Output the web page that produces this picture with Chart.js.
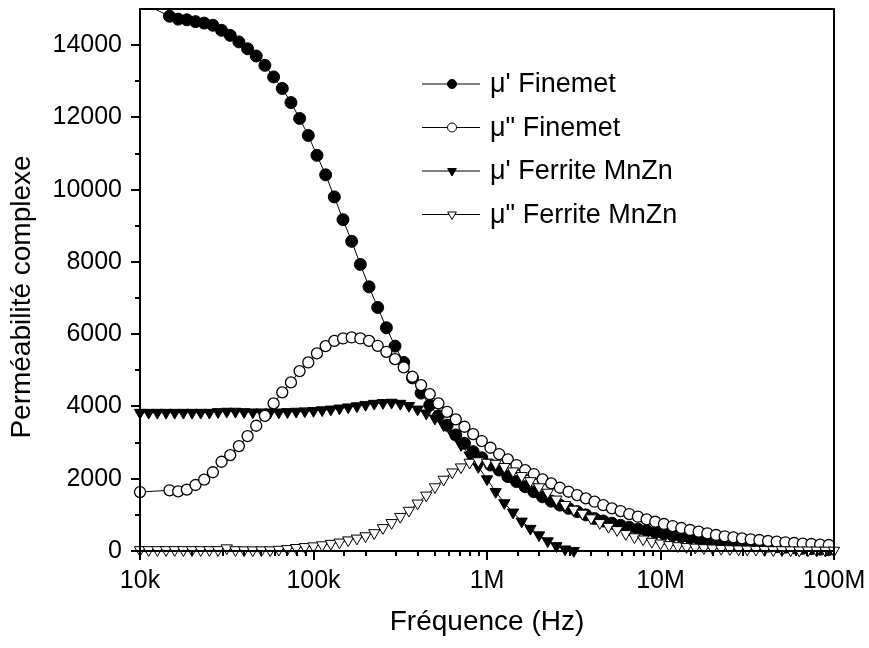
<!DOCTYPE html>
<html>
<head>
<meta charset="utf-8">
<script src="https://cdn.jsdelivr.net/npm/chart.js@4/dist/chart.umd.min.js"></script>
<style>
html,body{margin:0;padding:0;background:#fff;}
#wrap{width:869px;height:648px;}
</style>
</head>
<body>
<div id="wrap"><canvas id="c" width="869" height="648"></canvas></div>
<script>
// ---------- DATA ----------
const freqFinemet = [
  10000,
  14791,16596,18621,20893,23442,26303,29512,33113,37154,41687,
  46774,52481,58884,66069,74131,83176,93325,104713,117490,131826,
  147911,165959,186209,208930,234423,263027,295121,331131,371535,416869,
  467735,524807,588844,660693,741310,831764,933254,1047129,1174898,1318257,
  1479108,1659587,1862087,2089296,2344229,2630268,2951209,3311311,3715352,4168694,
  4677351,5248075,5888437,6606934,7413102,8317638,9332543,10471285,11748976,13182567,
  14791084,16595869,18620871,20892961,23442288,26302680,29512092,33113112,37153523,41686938,
  46773514,52480746,58884366,66069345,74131024,83176377,93325430
];
const muPrimeFinemet = [
  15200,
  14800,14720,14700,14650,14610,14550,14410,14270,14090,13900,
  13700,13440,13120,12800,12410,11970,11500,10950,10410,9800,
  9170,8570,7930,7310,6740,6180,5670,5220,4790,4370,
  4040,3740,3480,3210,2980,2750,2580,2380,2240,2060,
  1920,1780,1640,1500,1380,1270,1180,1090,1000,900,
  830,770,710,655,605,560,515,475,435,400,
  365,330,300,270,245,220,195,175,155,135,
  120,105,90,75,62,50,40
];
const muSecondFinemet = [
  1632,
  1680,1650,1700,1826,1975,2180,2470,2655,2904,3181,
  3466,3742,4085,4390,4666,4979,5218,5468,5670,5817,
  5882,5910,5882,5817,5679,5513,5310,5081,4822,4592,
  4343,4085,3853,3643,3438,3236,3043,2857,2683,2536,
  2379,2240,2130,1983,1873,1751,1640,1549,1458,1364,
  1272,1181,1106,1023,949,877,810,747,691,636,
  581,534,490,443,407,379,351,324,304,277,
  257,241,221,202,194,174,166
];
const freqFerrite = [
  10000,11220,12589,14125,15849,17783,19953,22387,25119,28184,
  31623,35481,39811,44668,50119,56234,63096,70795,79433,89125,
  100000,112202,125893,141254,158489,177828,199526,223872,251189,281838,
  316228,354813,398107,446684,501187,562341,630957,707946,794328,891251,
  1000000,1122018,1258925,1412538,1584893,1778279,1995262,2238721,2511886,2818383,
  3162278,3548134,3981072,4466836,5011872,5623413,6309573,7079458,7943282,8912509,
  10000000,11220185,12589254,14125375,15848932,17782794,19952623,22387211,25118864,28183829,
  31622777,35481339,39810717,44668359,50118723,56234133,63095734,70794578,79432823,89125094,
  100000000
];
const muPrimeFerrite = [
  3830,3830,3830,3830,3830,3830,3830,3830,3830,3850,
  3860,3860,3850,3840,3840,3840,3840,3850,3860,3870,
  3880,3900,3920,3950,3980,4010,4050,4080,4100,4110,
  4080,4020,3920,3810,3670,3490,3250,2940,2650,2330,
  1990,1640,1330,1070,820,620,440,275,140,50,
  5
];
const muSecondFerrite = [
  30,30,30,30,30,30,30,30,30,30,
  80,30,25,25,25,25,40,60,90,115,
  135,165,205,240,300,350,415,500,640,780,
  950,1120,1320,1540,1770,1980,2180,2320,2450,2490,
  2450,2420,2330,2210,2080,1940,1770,1620,1430,1280,
  1150,1040,910,780,675,585,475,385,325,260,
  213,170,140,115,100,85,75,65,55,50,
  45,40,35,30,28,25,22,20,18,16,
  15
];
const seriesLabels = ["\u03bc' Finemet", '\u03bc" Finemet', "\u03bc' Ferrite MnZn", '\u03bc" Ferrite MnZn'];
const xTickValues = [10000, 100000, 1000000, 10000000, 100000000];
const xTickLabels = ['10k', '100k', '1M', '10M', '100M'];
const yTickValues = [0, 2000, 4000, 6000, 8000, 10000, 12000, 14000];
const yTickLabels = ['0', '2000', '4000', '6000', '8000', '10000', '12000', '14000'];
const yMinorStep = 1000;
const xTitle = 'Fr\u00e9quence (Hz)';
const yTitle = 'Perm\u00e9abilit\u00e9 complexe';

// ---------- CHART ----------
const FONT = "'Liberation Sans', Arial, sans-serif";
const toPts = (fs, vs) => vs.map((v, i) => ({x: fs[i], y: v}));

function isDecade(v) {
  const l = Math.log10(v);
  return Math.abs(l - Math.round(l)) < 1e-6;
}

const datasetStyles = [
  {pointStyle: 'circle', rotation: 0, radius: 6, bg: '#000', bw: 1, order: 4, legendRadius: 4.5},
  {pointStyle: 'circle', rotation: 0, radius: 5.5, bg: '#fff', bw: 1.3, order: 2, legendRadius: 4.5},
  {pointStyle: 'triangle', rotation: 180, radius: 6.5, bg: '#000', bw: 1, order: 3, legendRadius: 5},
  {pointStyle: 'triangle', rotation: 180, radius: 6.5, bg: '#fff', bw: 1, order: 1, legendRadius: 5}
];
const seriesData = [
  toPts(freqFinemet, muPrimeFinemet),
  toPts(freqFinemet, muSecondFinemet),
  toPts(freqFerrite, muPrimeFerrite),
  toPts(freqFerrite, muSecondFerrite)
];

const datasets = seriesData.map((d, i) => {
  const s = datasetStyles[i];
  return {
    label: seriesLabels[i],
    data: d,
    borderColor: '#000',
    borderWidth: 1,
    backgroundColor: s.bg,
    pointStyle: s.pointStyle,
    pointRotation: s.rotation,
    pointRadius: s.radius,
    pointBackgroundColor: s.bg,
    pointBorderColor: '#000',
    pointBorderWidth: s.bw,
    pointHoverRadius: s.radius,
    tension: 0,
    order: s.order,
    clip: {left: 8, right: 8, top: 0, bottom: 8}
  };
});

const framePlugin = {
  id: 'frame',
  afterDraw(chart) {
    const {ctx, chartArea: a, scales: {x, y}} = chart;
    ctx.save();
    ctx.strokeStyle = '#000';
    ctx.lineCap = 'butt';
    const seg = (x1, y1, x2, y2) => { ctx.beginPath(); ctx.moveTo(x1, y1); ctx.lineTo(x2, y2); ctx.stroke(); };
    // frame
    ctx.lineWidth = 2;
    ctx.strokeRect(a.left, a.top, a.right - a.left, a.bottom - a.top);
    // y ticks major
    y.ticks.forEach(t => {
      const py = Math.round(y.getPixelForValue(t.value));
      seg(a.left - 9, py, a.left, py);
    });
    // y ticks minor
    for (let v = y.min + yMinorStep; v < y.max; v += yMinorStep) {
      if (yTickValues.includes(v)) continue;
      const pm = Math.round(y.getPixelForValue(v));
      seg(a.left - 5, pm, a.left, pm);
    }
    // x ticks
    x.ticks.forEach(t => {
      if (t.value < x.min || t.value > x.max) return;
      const px = Math.round(x.getPixelForValue(t.value));
      const major = isDecade(t.value);
      seg(px, a.bottom, px, a.bottom + (major ? 9 : 5));
    });
    // y title
    ctx.fillStyle = '#000';
    ctx.font = '28px ' + FONT;
    ctx.textAlign = 'center';
    ctx.textBaseline = 'middle';
    ctx.translate(22, 297);
    ctx.rotate(-Math.PI / 2);
    ctx.fillText(yTitle, 0, 0);
    ctx.setTransform(1, 0, 0, 1, 0, 0);
    // legend
    const legX1 = 422, legX2 = 480, legMx = 452, legTx = 490;
    const legY0 = 84, legDy = 43.5;
    chart.data.datasets.forEach((ds, i) => {
      const s = datasetStyles[i];
      const ly = legY0 + i * legDy;
      ctx.lineWidth = 1;
      ctx.strokeStyle = '#000';
      seg(legX1, ly, legX2, ly);
      ctx.fillStyle = s.bg;
      ctx.strokeStyle = '#000';
      Chart.helpers.drawPoint(ctx, {pointStyle: s.pointStyle, rotation: s.rotation, radius: s.legendRadius, borderWidth: 1}, legMx, ly);
      ctx.fillStyle = '#000';
      ctx.font = '27px ' + FONT;
      ctx.textAlign = 'left';
      ctx.textBaseline = 'middle';
      ctx.fillText(ds.label, legTx, ly + 1);
    });
    ctx.restore();
  }
};

new Chart(document.getElementById('c'), {
  type: 'line',
  data: {datasets},
  options: {
    responsive: false,
    devicePixelRatio: 1,
    animation: false,
    events: [],
    layout: {padding: {top: 9, right: 35, left: 0, bottom: 0}},
    plugins: {legend: {display: false}, tooltip: {enabled: false}},
    scales: {
      x: {
        type: 'logarithmic',
        min: 10000,
        max: 100000000,
        grid: {display: false, drawTicks: false},
        border: {display: false},
        ticks: {
          autoSkip: false,
          maxRotation: 0,
          minRotation: 0,
          padding: 15,
          color: '#000',
          font: {family: FONT, size: 25},
          callback: (v) => {
            const idx = xTickValues.findIndex(tv => Math.abs(Math.log10(tv) - Math.log10(v)) < 1e-6);
            return idx >= 0 ? xTickLabels[idx] : '';
          }
        },
        title: {display: true, text: xTitle, color: '#000', font: {family: FONT, size: 28}, padding: {top: 0, bottom: 9}},
        afterFit: (s) => { s.height = 97; s.paddingLeft = 0; s.paddingRight = 0; s.paddingTop = 0; s.paddingBottom = 0; }
      },
      y: {
        min: 0,
        max: 15000,
        grid: {display: false, drawTicks: false},
        border: {display: false},
        afterBuildTicks: (s) => { s.ticks = yTickValues.map(v => ({value: v})); },
        ticks: {
          autoSkip: false,
          padding: 18,
          color: '#000',
          font: {family: FONT, size: 25},
          callback: (v) => {
            const idx = yTickValues.indexOf(v);
            return idx >= 0 ? yTickLabels[idx] : '';
          }
        },
        title: {display: false},
        afterFit: (s) => { s.width = 140; s.paddingTop = 0; s.paddingBottom = 0; s.paddingLeft = 0; s.paddingRight = 0; }
      }
    }
  },
  plugins: [framePlugin]
});
</script>
</body>
</html>
